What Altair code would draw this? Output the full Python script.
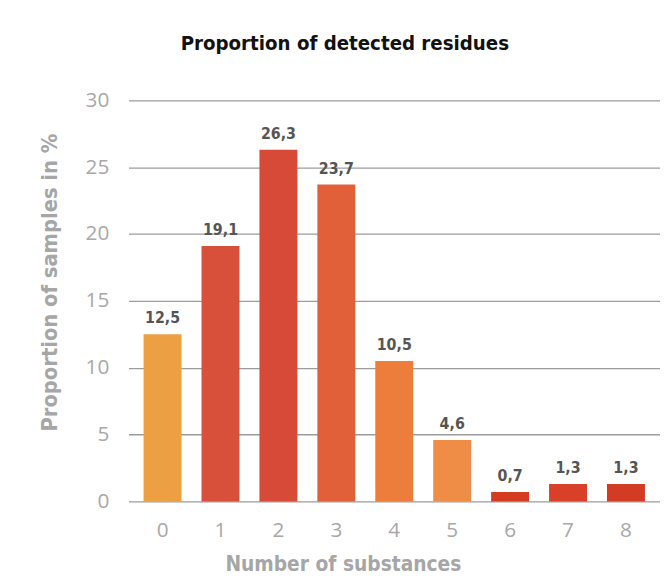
import altair as alt
import pandas as pd

categories = ["0", "1", "2", "3", "4", "5", "6", "7", "8"]
values = [12.5, 19.1, 26.3, 23.7, 10.5, 4.6, 0.7, 1.3, 1.3]
bar_colors = ["#eda043", "#d8503a", "#d84a38", "#e1603a", "#ec7d3a",
              "#ef8c45", "#d43c22", "#d8402a", "#d23c25"]
y_ticks = [0, 5, 10, 15, 20, 25, 30]

df = pd.DataFrame({
    "cat": categories,
    "val": values,
    "lab": [f"{v:.1f}".replace(".", ",") for v in values],
})

narrow = "DejaVu Sans Condensed"
light = "Open Sans, sans-serif"

x = alt.X("cat:N", sort=categories,
          scale=alt.Scale(paddingInner=0.345, paddingOuter=0.26),
          axis=alt.Axis(title="Number of substances", labelAngle=0,
                        labelFont=light, labelFontSize=21, labelColor="#a8a8a8",
                        labelPadding=18, ticks=False, domain=False,
                        titleFont=narrow, titleFontSize=21, titleFontWeight="bold",
                        titleColor="#a6a6a6", titleX=217, titleY=64,
                        titleBaseline="middle", titleAlign="center"))
y = alt.Y("val:Q", scale=alt.Scale(domain=[0, 30], nice=False),
          axis=alt.Axis(title="Proportion of samples in %", values=y_ticks,
                        labelFont=light, labelFontSize=21, labelColor="#a8a8a8",
                        labelPadding=20, ticks=False, domain=False,
                        grid=True, gridColor="#9c9c9c", gridWidth=1.3,
                        titleFont=narrow, titleFontSize=22, titleFontWeight="bold",
                        titleColor="#a6a6a6", titleX=-80, titleY=184,
                        titleAngle=-90, titleBaseline="middle", titleAlign="center"))

bars = alt.Chart(df).mark_bar().encode(
    x=x, y=y,
    color=alt.Color("cat:N", sort=categories,
                    scale=alt.Scale(domain=categories, range=bar_colors),
                    legend=None),
)
labels = alt.Chart(df).mark_text(
    font=narrow, fontSize=16, fontWeight="bold", color="#555555",
    baseline="bottom", dy=-8,
).encode(x=alt.X("cat:N", sort=categories), y="val:Q", text="lab:N")

chart = alt.layer(bars, labels).properties(
    width=538, height=406,
    autosize=alt.AutoSizeParams(type="none"),
    padding={"left": 122, "top": 90, "right": 0, "bottom": 74},
    title=alt.TitleParams("Proportion of detected residues", font=narrow,
                          fontSize=20.5, fontWeight="bold", color="#111111",
                          anchor="middle", frame="group", dx=-50, offset=15,
                          baseline="bottom"),
    background="white",
).configure_view(stroke=None)

chart.save("out.html", embed_options={"renderer": "svg", "actions": False})
